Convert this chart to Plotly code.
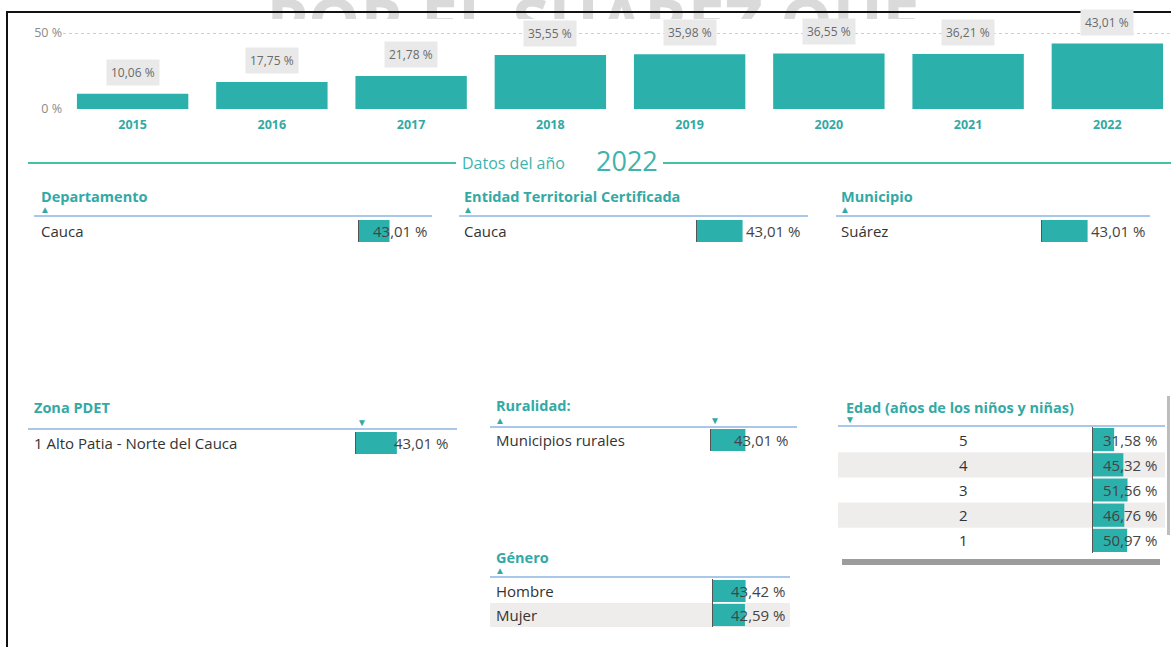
import plotly.graph_objects as go

W, H = 1171, 647

# ---- data ----
years = ["2015", "2016", "2017", "2018", "2019", "2020", "2021", "2022"]
tasa_anual = [10.06, 17.75, 21.78, 35.55, 35.98, 36.55, 36.21, 43.01]
y_tickvals = [0, 50]
y_ticktext = ["0 %", "50 %"]
anio_sel = "2022"

departamento = ["Cauca"]
departamento_val = [43.01]
entidad = ["Cauca"]
entidad_val = [43.01]
municipio = ["Suárez"]
municipio_val = [43.01]
zona_pdet = ["1 Alto Patia - Norte del Cauca"]
zona_pdet_val = [43.01]
ruralidad = ["Municipios rurales"]
ruralidad_val = [43.01]
edad = ["5", "4", "3", "2", "1"]
edad_val = [31.58, 45.32, 51.56, 46.76, 50.97]
genero = ["Hombre", "Mujer"]
genero_val = [43.42, 42.59]

watermark = "POR EL SUAREZ QUE"

# ---- style ----
TEAL = "#2BB0AC"
TEAL_TXT = "#33A9A5"
DIVIDER = "#45BFA6"
HEADER_LINE = "#8DB6E2"
STRIPE = "#EFECEC"
FONT = "Open Sans"


def px(x):
    return x / W


def py(y):
    return 1 - y / H


def pct(v):
    return f"{v:.2f}".replace(".", ",") + " %"


fig = go.Figure()
annotations = []
shapes = []

# ---- watermark (only its top edge is visible, clipped by its own axis) ----
fig.add_trace(go.Scatter(
    x=[593], y=[-30], mode="text", text=[watermark],
    textfont=dict(size=66, color="#DADADA", family=FONT, weight="bold"),
    xaxis="x9", yaxis="y9", hoverinfo="skip", showlegend=False,
))

# ---- yearly bar chart ----
fig.add_trace(go.Bar(
    x=years, y=tasa_anual, marker=dict(color=TEAL, line=dict(width=0)),
    width=0.8, hoverinfo="skip", showlegend=False,
))
for i, v in enumerate(tasa_anual):
    annotations.append(dict(
        x=i, y=v, xref="x", yref="y", text=pct(v), showarrow=False,
        yanchor="bottom", yshift=8, bgcolor="#E9E9E9", borderpad=4,
        font=dict(size=12, color="#6A6A6A", family=FONT),
    ))

# ---- "Datos del año 2022" divider ----
shapes += [
    dict(type="line", xref="paper", yref="paper", x0=px(28), x1=px(456),
         y0=py(163), y1=py(163), line=dict(color=DIVIDER, width=2)),
    dict(type="line", xref="paper", yref="paper", x0=px(663), x1=1,
         y0=py(163), y1=py(163), line=dict(color=DIVIDER, width=2)),
]
annotations += [
    dict(x=px(460), y=py(163), xref="paper", yref="paper", text="Datos del año",
         showarrow=False, xanchor="left", yanchor="middle",
         font=dict(size=16, color="#3FB3AD", family=FONT)),
    dict(x=px(594), y=py(161), xref="paper", yref="paper", text=anio_sel,
         showarrow=False, xanchor="left", yanchor="middle",
         font=dict(size=27, color="#3FB3AD", family=FONT)),
]

# ---- small tables with data bars ----
tables = [
    dict(n=2, cats=departamento, vals=departamento_val, title="Departamento",
         tx=39, ty=196, lx0=34, lx1=432, ly=216, bx0=359, bx1=430, top=220, rh=22,
         arrows=[(45, "▲")]),
    dict(n=3, cats=entidad, vals=entidad_val, title="Entidad Territorial Certificada",
         tx=462, ty=196, lx0=459, lx1=808, ly=216, bx0=697, bx1=803, top=220, rh=22,
         arrows=[(468, "▲")]),
    dict(n=4, cats=municipio, vals=municipio_val, title="Municipio",
         tx=839, ty=196, lx0=836, lx1=1150, ly=216, bx0=1042, bx1=1148, top=220, rh=22,
         arrows=[(845, "▲")]),
    dict(n=5, cats=zona_pdet, vals=zona_pdet_val, title="Zona PDET",
         tx=32, ty=408, lx0=28, lx1=457, ly=429, bx0=356, bx1=451, top=432, rh=22,
         arrows=[(362, "▼")]),
    dict(n=6, cats=ruralidad, vals=ruralidad_val, title="Ruralidad:",
         tx=494, ty=405, lx0=490, lx1=797, ly=427, bx0=711, bx1=791, top=429, rh=22,
         arrows=[(500, "▲"), (715, "▼")]),
    dict(n=7, cats=edad, vals=edad_val, title="Edad (años de los niños y niñas)",
         tx=844, ty=407, lx0=838, lx1=1165, ly=426, bx0=1093, bx1=1160, top=427, rh=25.2,
         arrows=[(850, "▼")], center_x=963),
    dict(n=8, cats=genero, vals=genero_val, title="Género",
         tx=494, ty=557, lx0=490, lx1=790, ly=577, bx0=713, bx1=788, top=579, rh=24,
         arrows=[(500, "▲")]),
]

axes = {}
for t in tables:
    n, cats, vals = t["n"], t["cats"], t["vals"]
    rows = len(cats)
    fig.add_trace(go.Bar(
        x=vals, y=cats, orientation="h", xaxis=f"x{n}", yaxis=f"y{n}",
        marker=dict(color=TEAL, line=dict(width=0)),
        width=0.92 if rows > 1 else 1.0, hoverinfo="skip", showlegend=False,
    ))
    axes[f"xaxis{n}"] = dict(
        domain=[px(t["bx0"]), px(t["bx1"])], range=[0, 100], visible=False,
        anchor=f"y{n}", fixedrange=True, automargin=False,
    )
    axes[f"yaxis{n}"] = dict(
        domain=[py(t["top"] + rows * t["rh"]), py(t["top"])], type="category",
        categoryorder="array", categoryarray=cats,
        range=[rows - 0.5, -0.5], showgrid=False, zeroline=False,
        showticklabels=False, ticks="", showline=True, linecolor="#555555",
        linewidth=1, anchor=f"x{n}", fixedrange=True, automargin=False,
    )
    # header
    annotations.append(dict(
        x=px(t["tx"]), y=py(t["ty"]), xref="paper", yref="paper", text=f"<b>{t['title']}</b>",
        showarrow=False, xanchor="left", yanchor="middle",
        font=dict(size=14.5, color=TEAL_TXT, family=FONT),
    ))
    for ax_x, sym in t["arrows"]:
        annotations.append(dict(
            x=px(ax_x), y=py(t["ly"] - 7), xref="paper", yref="paper", text=sym,
            showarrow=False, xanchor="center", yanchor="middle",
            font=dict(size=10, color=TEAL_TXT, family=FONT),
        ))
    shapes.append(dict(
        type="line", xref="paper", yref="paper", x0=px(t["lx0"]), x1=px(t["lx1"]),
        y0=py(t["ly"]), y1=py(t["ly"]), line=dict(color=HEADER_LINE, width=1.5),
    ))
    for i, (c, v) in enumerate(zip(cats, vals)):
        if i % 2 == 1:
            shapes.append(dict(
                type="rect", xref="paper", yref=f"y{n}", x0=px(t["lx0"]), x1=px(t["lx1"]),
                y0=i - 0.5, y1=i + 0.5, fillcolor=STRIPE, line=dict(width=0), layer="below",
            ))
        centered = "center_x" in t
        annotations.append(dict(
            x=px(t["center_x"] if centered else t["tx"]), y=i, xref="paper", yref=f"y{n}",
            text=c, showarrow=False, xanchor="center" if centered else "left",
            yanchor="middle", font=dict(size=15, color="#333333", family=FONT),
        ))
        annotations.append(dict(
            x=100, y=i, xref=f"x{n}", yref=f"y{n}", text=pct(v),
            showarrow=False, xanchor="right", yanchor="middle",
            font=dict(size=15, color="#444444", family=FONT),
        ))

# scrollbars of the age table
shapes += [
    dict(type="rect", xref="paper", yref="paper", x0=px(842), x1=px(1160),
         y0=py(565), y1=py(559), fillcolor="#9C9C9C", line=dict(width=0)),
    dict(type="rect", xref="paper", yref="paper", x0=px(1167), x1=px(1170),
         y0=py(535), y1=py(396), fillcolor="#BDBDBD", line=dict(width=0)),
]

# page frame
shapes += [
    dict(type="line", xref="paper", yref="paper", x0=px(6), x1=1, y0=py(12), y1=py(12),
         line=dict(color="#111111", width=2), layer="above"),
    dict(type="line", xref="paper", yref="paper", x0=px(7), x1=px(7), y0=py(12), y1=0,
         line=dict(color="#111111", width=2), layer="above"),
]

fig.update_layout(
    template="none",
    width=W, height=H, autosize=False,
    margin=dict(l=0, r=0, t=0, b=0, pad=0),
    paper_bgcolor="white", plot_bgcolor="rgba(0,0,0,0)",
    font=dict(family=FONT, color="#333333"),
    hovermode=False, showlegend=False,
    xaxis=dict(
        domain=[px(63), 1], type="category", range=[-0.5, 7.457],
        showgrid=False, zeroline=False, showline=False, ticks="",
        tickfont=dict(size=12.5, color=TEAL_TXT, family=FONT, weight="bold"),
        ticklabelstandoff=6, fixedrange=True, automargin=False,
    ),
    yaxis=dict(
        domain=[py(109), py(20)], range=[0, (109 - 20) / 1.52],
        tickvals=y_tickvals, ticktext=y_ticktext,
        tickfont=dict(size=12.5, color="#8A8A8A", family=FONT),
        showgrid=True, gridcolor="#D0D0D0", griddash="dot", gridwidth=1,
        zeroline=False, showline=False, ticks="", fixedrange=True, automargin=False,
    ),
    xaxis9=dict(domain=[0, 1], range=[0, W], visible=False, anchor="y9",
                fixedrange=True, automargin=False),
    yaxis9=dict(domain=[py(19), 1], range=[-19, 0], visible=False, anchor="x9",
                fixedrange=True, automargin=False),
    annotations=annotations,
    shapes=shapes,
    **axes,
)

fig.write_html(
    "out.html",
    config=dict(displayModeBar=False, responsive=False),
    post_script="document.body.style.margin='0';document.body.style.overflow='hidden';",
)
